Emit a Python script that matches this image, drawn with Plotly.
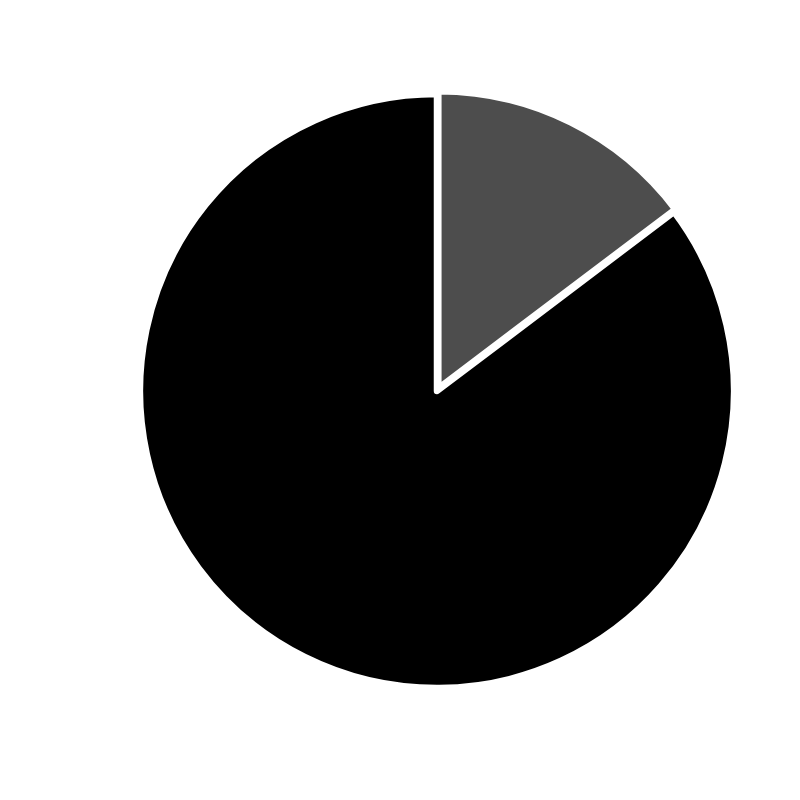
import plotly.graph_objects as go

# Two-slice pie, small grey share starting at 12 o'clock
labels = ["A", "B"]
values = [14.7, 85.3]
colors = ["#4d4d4d", "#000000"]

fig = go.Figure(data=go.Pie(
    labels=labels,
    values=values,
    sort=False,
    direction="clockwise",
    rotation=0,
    pull=[0.01, 0],
    textinfo="none",
    hoverinfo="label+percent",
    marker=dict(colors=colors, line=dict(color="white", width=6.5)),
))

fig.update_layout(
    width=800,
    height=800,
    showlegend=False,
    paper_bgcolor="white",
    plot_bgcolor="white",
    margin=dict(l=129, r=71, t=83, b=117),
)

fig.write_html("out.html")
